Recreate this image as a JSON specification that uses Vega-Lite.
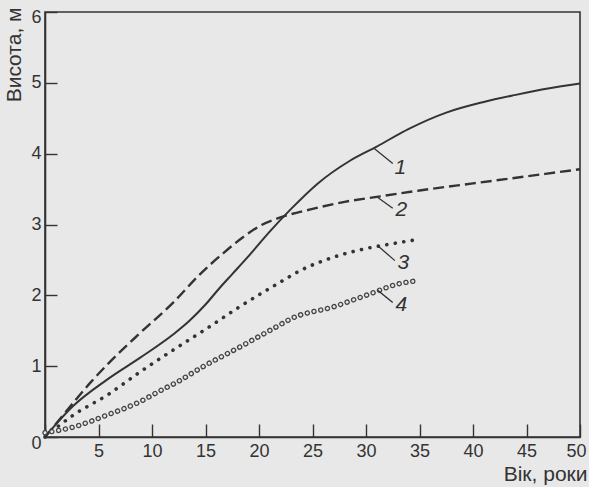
{
  "$schema": "https://vega.github.io/schema/vega-lite/v6.json",
  "width": 535,
  "height": 425,
  "autosize": {"type": "none"},
  "padding": {"left": 45, "top": 12, "right": 9, "bottom": 50},
  "background": "#e8e8e8",
  "config": {
    "font": "Liberation Sans",
    "view": {"stroke": "#333333", "strokeWidth": 1.6}
  },
  "datasets": {
    "curves": [
      {"s": 1, "age": 0, "h": 0},
      {"s": 1, "age": 2.65, "h": 0.44},
      {"s": 1, "age": 5.8, "h": 0.81},
      {"s": 1, "age": 8.9, "h": 1.12},
      {"s": 1, "age": 12, "h": 1.45},
      {"s": 1, "age": 13.5, "h": 1.64},
      {"s": 1, "age": 15, "h": 1.87},
      {"s": 1, "age": 16.3, "h": 2.1},
      {"s": 1, "age": 17.5, "h": 2.3},
      {"s": 1, "age": 19, "h": 2.55},
      {"s": 1, "age": 21, "h": 2.9},
      {"s": 1, "age": 23, "h": 3.22},
      {"s": 1, "age": 25.5, "h": 3.58},
      {"s": 1, "age": 28.5, "h": 3.9},
      {"s": 1, "age": 31, "h": 4.1},
      {"s": 1, "age": 34, "h": 4.35},
      {"s": 1, "age": 37.5, "h": 4.58},
      {"s": 1, "age": 41, "h": 4.73},
      {"s": 1, "age": 44, "h": 4.83},
      {"s": 1, "age": 47, "h": 4.92},
      {"s": 1, "age": 50, "h": 4.99},
      {"s": 2, "age": 0, "h": 0},
      {"s": 2, "age": 1.7, "h": 0.31},
      {"s": 2, "age": 4.2, "h": 0.76},
      {"s": 2, "age": 6, "h": 1.05},
      {"s": 2, "age": 8.9, "h": 1.47},
      {"s": 2, "age": 12, "h": 1.9},
      {"s": 2, "age": 14.5, "h": 2.3},
      {"s": 2, "age": 16.7, "h": 2.6},
      {"s": 2, "age": 18.5, "h": 2.82},
      {"s": 2, "age": 20.2, "h": 2.99},
      {"s": 2, "age": 22, "h": 3.1},
      {"s": 2, "age": 25, "h": 3.22},
      {"s": 2, "age": 28, "h": 3.32},
      {"s": 2, "age": 31, "h": 3.39},
      {"s": 2, "age": 35, "h": 3.48},
      {"s": 2, "age": 40, "h": 3.58},
      {"s": 2, "age": 45, "h": 3.68},
      {"s": 2, "age": 50, "h": 3.78},
      {"s": 3, "age": 0, "h": 0},
      {"s": 3, "age": 2.65, "h": 0.31},
      {"s": 3, "age": 5.8, "h": 0.59},
      {"s": 3, "age": 8.9, "h": 0.92},
      {"s": 3, "age": 12, "h": 1.23},
      {"s": 3, "age": 15.1, "h": 1.53},
      {"s": 3, "age": 18.2, "h": 1.84},
      {"s": 3, "age": 21.8, "h": 2.17},
      {"s": 3, "age": 24, "h": 2.36},
      {"s": 3, "age": 27, "h": 2.54},
      {"s": 3, "age": 30, "h": 2.66},
      {"s": 3, "age": 32.5, "h": 2.73},
      {"s": 3, "age": 34.5, "h": 2.78},
      {"s": 4, "age": 0, "h": 0.06},
      {"s": 4, "age": 2.65, "h": 0.14},
      {"s": 4, "age": 5.8, "h": 0.31},
      {"s": 4, "age": 8.9, "h": 0.5},
      {"s": 4, "age": 10.6, "h": 0.64},
      {"s": 4, "age": 12.4, "h": 0.78},
      {"s": 4, "age": 14.5, "h": 0.97},
      {"s": 4, "age": 18.2, "h": 1.27},
      {"s": 4, "age": 21.8, "h": 1.57},
      {"s": 4, "age": 23, "h": 1.67},
      {"s": 4, "age": 27, "h": 1.84},
      {"s": 4, "age": 30, "h": 2.0},
      {"s": 4, "age": 33, "h": 2.16},
      {"s": 4, "age": 35, "h": 2.21}
    ],
    "labels": [
      {"lab": "1", "age": 30.8, "h": 4.07, "age2": 32.5, "h2": 3.86, "tx": 33.2, "ty": 3.8},
      {"lab": "2", "age": 31.1, "h": 3.38, "age2": 32.5, "h2": 3.23, "tx": 33.3, "ty": 3.2},
      {"lab": "3", "age": 31.1, "h": 2.7, "age2": 32.7, "h2": 2.49, "tx": 33.5, "ty": 2.45},
      {"lab": "4", "age": 31.1, "h": 2.07, "age2": 32.5, "h2": 1.9, "tx": 33.3, "ty": 1.86}
    ]
  },
  "encoding": {
    "x": {
      "field": "age", "type": "quantitative",
      "scale": {"domain": [0, 50], "nice": false, "zero": false},
      "axis": {
        "values": [0, 5, 10, 15, 20, 25, 30, 35, 40, 45, 50],
        "labelExpr": "datum.value == 0 ? '' : datum.label",
        "grid": false,
        "tickSize": -13,
        "tickWidth": 1.4,
        "tickColor": "#333333",
        "domainColor": "#333333",
        "domainWidth": 1.6,
        "labelFontSize": 18,
        "labelColor": "#333333",
        "labelPadding": 18,
        "labelOffset": {"condition": {"test": "datum.value == 50", "value": -4}, "value": 0},
        "labelFlush": false,
        "labelOverlap": false,
        "title": "Вік, роки",
        "titleFontSize": 21,
        "titleFontWeight": "normal",
        "titleColor": "#333333",
        "titleX": 542,
        "titleY": 37,
        "titleAlign": "right",
        "titleBaseline": "middle"
      }
    },
    "y": {
      "field": "h", "type": "quantitative",
      "scale": {"domain": [0, 6], "nice": false},
      "axis": {
        "values": [0, 1, 2, 3, 4, 5, 6],
        "grid": false,
        "tickSize": -12,
        "tickWidth": 1.4,
        "tickColor": "#333333",
        "domainColor": "#333333",
        "domainWidth": 1.6,
        "labelFontSize": 18,
        "labelColor": "#333333",
        "labelPadding": 16,
        "labelOffset": {"condition": [{"test": "datum.value == 0", "value": 6}, {"test": "datum.value == 6", "value": 5}], "value": 0},
        "labelFlush": false,
        "labelOverlap": false,
        "title": "Висота, м",
        "titleFontSize": 21,
        "titleFontWeight": "normal",
        "titleColor": "#333333",
        "titleX": -31,
        "titleY": -5,
        "titleAngle": -90,
        "titleAlign": "right",
        "titleBaseline": "middle"
      }
    }
  },
  "layer": [
    {
      "data": {"name": "curves"},
      "transform": [{"filter": "datum.s == 1"}],
      "mark": {"type": "line", "color": "#333333", "strokeWidth": 2, "interpolate": "monotone"}
    },
    {
      "data": {"name": "curves"},
      "transform": [{"filter": "datum.s == 2"}],
      "mark": {"type": "line", "color": "#333333", "strokeWidth": 2.4, "strokeDash": [11, 5], "interpolate": "monotone"}
    },
    {
      "data": {"name": "curves"},
      "transform": [{"filter": "datum.s == 3"}],
      "mark": {"type": "line", "color": "#333333", "strokeWidth": 3.6, "strokeDash": [0.1, 8.5], "strokeCap": "round", "interpolate": "monotone"}
    },
    {
      "data": {"name": "curves"},
      "transform": [{"filter": "datum.s == 4"}],
      "mark": {"type": "line", "color": "#444444", "strokeWidth": 5.4, "strokeDash": [0.1, 6.8], "strokeCap": "round", "interpolate": "monotone"}
    },
    {
      "data": {"name": "curves"},
      "transform": [{"filter": "datum.s == 4"}],
      "mark": {"type": "line", "color": "#e8e8e8", "strokeWidth": 2.8, "strokeDash": [0.1, 6.8], "strokeCap": "round", "interpolate": "monotone"}
    },
    {
      "data": {"name": "labels"},
      "mark": {"type": "rule", "color": "#333333", "strokeWidth": 1.3},
      "encoding": {
        "x2": {"field": "age2"},
        "y2": {"field": "h2"}
      }
    },
    {
      "data": {"name": "labels"},
      "mark": {"type": "text", "fontSize": 21, "fontStyle": "italic", "color": "#333333", "align": "center", "baseline": "middle"},
      "encoding": {
        "x": {"field": "tx", "type": "quantitative"},
        "y": {"field": "ty", "type": "quantitative"},
        "text": {"field": "lab"}
      }
    }
  ]
}
